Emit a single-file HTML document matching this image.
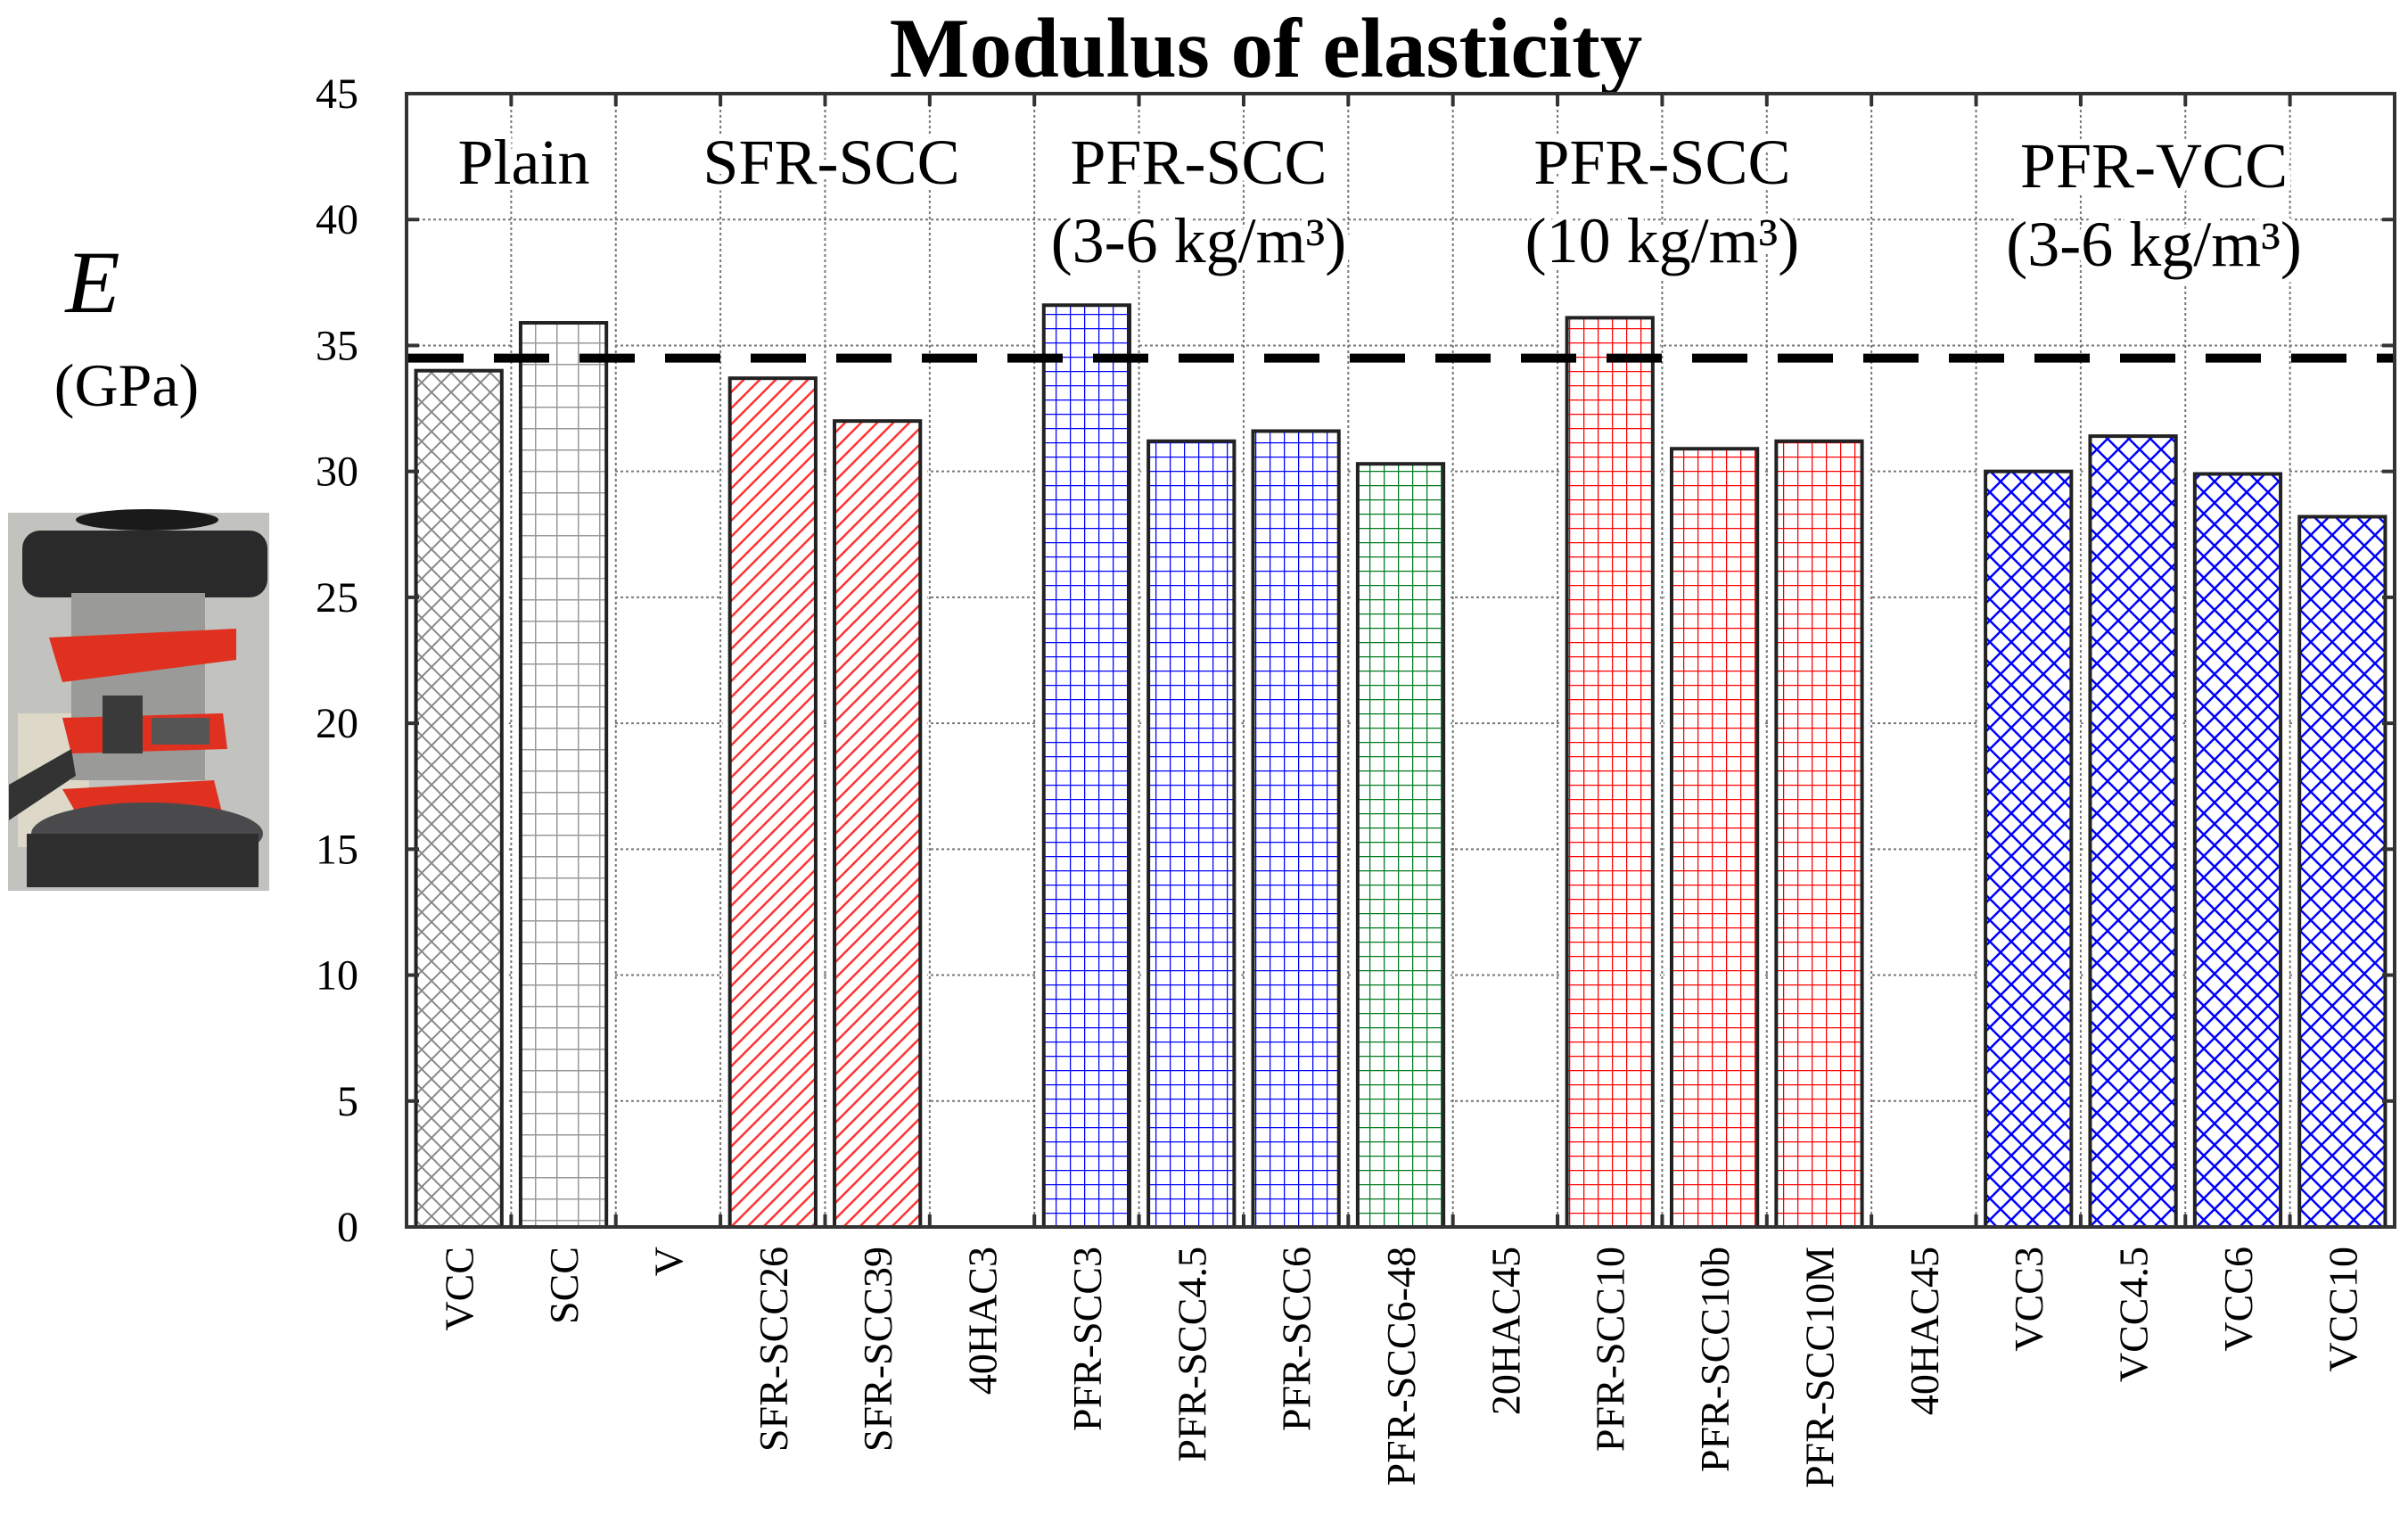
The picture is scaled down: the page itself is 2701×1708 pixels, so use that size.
<!DOCTYPE html>
<html><head><meta charset="utf-8"><style>
html,body{margin:0;padding:0;background:#fff;}
svg{display:block;font-family:"Liberation Serif",serif;}
</style></head><body>
<svg id="chart" width="2701" height="1708" viewBox="0 0 2701 1708" xmlns="http://www.w3.org/2000/svg">
<defs>
<pattern id="p-greyx" patternUnits="userSpaceOnUse" width="22" height="22"><path d="M0 0L22 22M22 0L0 22" stroke="#888" stroke-width="2"/></pattern>
<pattern id="p-greygrid" patternUnits="userSpaceOnUse" width="24" height="24"><path d="M0 0H24M0 0V24" stroke="#999" stroke-width="3"/></pattern>
<pattern id="p-redhatch" patternUnits="userSpaceOnUse" width="18" height="18"><path d="M-2 20L20 -2M16 20L20 16M-2 2L2 -2" stroke="#f33" stroke-width="2.5"/></pattern>
<pattern id="p-bluegrid" patternUnits="userSpaceOnUse" width="16" height="16"><path d="M0 0H16M0 0V16" stroke="#00f" stroke-width="2.5"/></pattern>
<pattern id="p-greengrid" patternUnits="userSpaceOnUse" width="16" height="16"><path d="M0 0H16M0 0V16" stroke="#007a20" stroke-width="2.5"/></pattern>
<pattern id="p-redgrid" patternUnits="userSpaceOnUse" width="16" height="16"><path d="M0 0H16M0 0V16" stroke="#f00" stroke-width="2.5"/></pattern>
<pattern id="p-bluex" patternUnits="userSpaceOnUse" width="24" height="24"><path d="M0 0L24 24M24 0L0 24" stroke="#00f" stroke-width="2.5"/></pattern>
</defs>
<g id="photo">
<rect x="9" y="575" width="293" height="424" fill="#c2c2bf"/>
<rect x="20" y="800" width="80" height="150" fill="#ddd8c8"/>
<ellipse cx="165" cy="583" rx="80" ry="12" fill="#1a1a1a"/>
<rect x="25" y="595" width="275" height="75" rx="20" fill="#2a2a2a"/>
<rect x="80" y="665" width="150" height="210" fill="#9a9a98"/>
<path d="M55 715 L265 705 L265 740 L70 765Z" fill="#e03020"/>
<path d="M70 805 L250 800 L255 840 L80 845Z" fill="#e03020"/>
<path d="M70 885 L240 875 L250 915 L90 920Z" fill="#e03020"/>
<rect x="115" y="780" width="45" height="65" fill="#3a3a3a"/>
<rect x="170" y="805" width="65" height="30" fill="#555"/>
<ellipse cx="165" cy="935" rx="130" ry="35" fill="#4a4a4c"/>
<rect x="30" y="935" width="260" height="60" fill="#2f2f30"/>
<path d="M10 880 L80 840 L85 870 L10 920Z" fill="#333"/>
</g>
<text x="104" y="350" font-size="100" font-style="italic" text-anchor="middle">E</text>
<text x="142" y="455" font-size="68" text-anchor="middle">(GPa)</text>
<text x="1420" y="86" font-size="95" font-weight="bold" text-anchor="middle">Modulus of elasticity</text>
<g id="grid"></g>
<g id="bars"></g>
<g id="groups"></g>
<line id="refline" x1="458" x2="2686" stroke="#000" stroke-width="10" stroke-dasharray="62,34"/>
<rect x="456" y="105" width="2230" height="1271" fill="none" stroke="#333" stroke-width="4"/>
<g id="yticks"></g>
<g id="xticks"></g>
</svg>
<script>
const categories = ["VCC","SCC","V","SFR-SCC26","SFR-SCC39","40HAC3","PFR-SCC3","PFR-SCC4.5","PFR-SCC6","PFR-SCC6-48","20HAC45","PFR-SCC10","PFR-SCC10b","PFR-SCC10M","40HAC45","VCC3","VCC4.5","VCC6","VCC10"];
const values = [34.0,35.9,null,33.7,32.0,null,36.6,31.2,31.6,30.3,null,36.1,30.9,31.2,null,30.0,31.4,29.9,28.2];
const fills = ["p-greyx","p-greygrid",null,"p-redhatch","p-redhatch",null,"p-bluegrid","p-bluegrid","p-bluegrid","p-greengrid",null,"p-redgrid","p-redgrid","p-redgrid",null,"p-bluex","p-bluex","p-bluex","p-bluex"];
const yTicks = [0,5,10,15,20,25,30,35,40,45];
const referenceValue = 34.5;
const groupLabels = [["Plain"],["SFR-SCC"],["PFR-SCC","(3-6 kg/m³)"],["PFR-SCC","(10 kg/m³)"],["PFR-VCC","(3-6 kg/m³)"]];
const groupCenters = [1.12,4.06,7.57,12.0,16.7];

const NS="http://www.w3.org/2000/svg";
const L=456,R=2686,T=105,B=1376,YMAX=45;
const cw=(R-L)/categories.length;
const y=v=>B-(v/YMAX)*(B-T);
const xc=i=>L+cw*(i+0.5);
const xg=c=>L+cw*c;
function mk(tag,attrs,parent){const e=document.createElementNS(NS,tag);for(const k in attrs)e.setAttribute(k,attrs[k]);parent.appendChild(e);return e;}
const grid=document.getElementById('grid');
yTicks.forEach(t=>{if(t===0||t===45)return;
 const l=mk('line',{x1:L,x2:R,y1:y(t),y2:y(t),stroke:'#777','stroke-width':2,'stroke-dasharray':'3,3'},grid);
 
 });
for(let i=1;i<categories.length;i++){
 const l=mk('line',{x1:xg(i),x2:xg(i),y1:T,y2:B,stroke:'#777','stroke-width':2,'stroke-dasharray':'3,3'},grid);
 
 
 const tk=mk('line',{x1:xg(i),x2:xg(i),y1:B,y2:B-14,stroke:'#333','stroke-width':4},grid);
 
 
 const tt=mk('line',{x1:xg(i),x2:xg(i),y1:T,y2:T+14,stroke:'#333','stroke-width':4},grid);
 
 
}
const bars=document.getElementById('bars');
const bw=cw*0.82;
values.forEach((v,i)=>{if(v===null)return;
 const x0=xc(i)-bw/2;
 const bg=mk('rect',{x:x0-8,y:y(v)-8,width:bw+16,height:B-y(v)+8,fill:'#fff'},bars);
 
 
 const r=mk('rect',{x:x0,y:y(v),width:bw,height:B-y(v),fill:'url(#'+fills[i]+')',stroke:'#222','stroke-width':4},bars);
 
 
});
const rl=document.getElementById('refline');
rl.setAttribute('y1',y(referenceValue));rl.setAttribute('y2',y(referenceValue));
const groups=document.getElementById('groups');
groupLabels.forEach((lines,g)=>{
 lines.forEach((s,k)=>{
  const t=mk('text',{x:xg(groupCenters[g]),y:(g===4?210:206)+k*88,'font-size':72,'text-anchor':'middle',stroke:'#fff','stroke-width':14,'paint-order':'stroke'},groups);
  t.textContent=s;
  
  
 });
});
const yt=document.getElementById('yticks');
yTicks.forEach(t=>{
 const e=mk('text',{x:402,y:y(t)+16,'font-size':48,'text-anchor':'end'},yt);
 e.textContent=t;
 
 
 const tk=mk('line',{x1:L,x2:L+14,y1:y(t),y2:y(t),stroke:'#333','stroke-width':4},yt);
 
 
 const tk2=mk('line',{x1:R,x2:R-14,y1:y(t),y2:y(t),stroke:'#333','stroke-width':4},yt);
 
 
});
const xt=document.getElementById('xticks');
categories.forEach((c,i)=>{
 const x=xc(i)+16, yy=1398;
 const e=mk('text',{x:x,y:yy,'font-size':46,'text-anchor':'end',transform:'rotate(-90 '+x+' '+yy+')'},xt);
 e.textContent=c;
 
 
});
</script>
</body></html>
